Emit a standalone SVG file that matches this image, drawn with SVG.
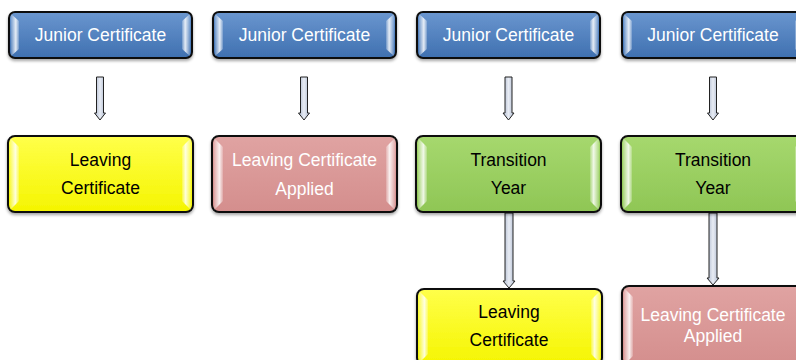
<svg xmlns="http://www.w3.org/2000/svg" width="796" height="360" viewBox="0 0 796 360">
<defs>
<linearGradient id="gBlue" x1="0" y1="0" x2="0" y2="1"><stop offset="0" stop-color="#6a96cf"/><stop offset="1" stop-color="#3f70b0"/></linearGradient>
<linearGradient id="gYellow" x1="0" y1="0" x2="0" y2="1"><stop offset="0" stop-color="#ffff4a"/><stop offset="1" stop-color="#f5f500"/></linearGradient>
<linearGradient id="gGreen" x1="0" y1="0" x2="0" y2="1"><stop offset="0" stop-color="#a6d86e"/><stop offset="1" stop-color="#8fc655"/></linearGradient>
<linearGradient id="gPink" x1="0" y1="0" x2="0" y2="1"><stop offset="0" stop-color="#e0a3a2"/><stop offset="1" stop-color="#d48e8d"/></linearGradient>
<linearGradient id="gSideL" x1="0" y1="0" x2="1" y2="0"><stop offset="0" stop-color="#ffffff" stop-opacity="0.15"/><stop offset="0.6" stop-color="#ffffff" stop-opacity="0.85"/><stop offset="1" stop-color="#ffffff" stop-opacity="0.2"/></linearGradient>
<linearGradient id="gSideR" x1="1" y1="0" x2="0" y2="0"><stop offset="0" stop-color="#ffffff" stop-opacity="0.15"/><stop offset="0.6" stop-color="#ffffff" stop-opacity="0.85"/><stop offset="1" stop-color="#ffffff" stop-opacity="0.2"/></linearGradient>
<linearGradient id="gArrow" x1="0" y1="0" x2="1" y2="0"><stop offset="0" stop-color="#aab6cc"/><stop offset="0.5" stop-color="#e8ecf4"/><stop offset="1" stop-color="#aab6cc"/></linearGradient>
<filter id="sh" x="-10%" y="-20%" width="120%" height="150%"><feDropShadow dx="0" dy="2" stdDeviation="1.5" flood-color="#000" flood-opacity="0.35"/></filter>
</defs>
<style>
.box{stroke:#111;stroke-width:2;filter:url(#sh)}
.blue{fill:url(#gBlue)}
.yellow{fill:url(#gYellow)}
.green{fill:url(#gGreen)}
.pink{fill:url(#gPink)}
.bl{fill:url(#gSideL)}
.br{fill:url(#gSideR)}
.arrow{fill:url(#gArrow);stroke:#222;stroke-width:1}
text{font-family:"Liberation Sans",Arial,sans-serif;font-size:17.5px;text-anchor:middle}
.w{fill:#ffffff}
.k{fill:#000000}
</style>

<g id="connectors">
<path class="arrow" d="M96.5,77 h7 v36 h2 l-5.5,7 l-5.5,-7 h2 z"/>
<path class="arrow" d="M300.5,77 h7 v36 h2 l-5.5,7 l-5.5,-7 h2 z"/>
<path class="arrow" d="M505,77 h7 v36 h2 l-5.5,7 l-5.5,-7 h2 z"/>
<path class="arrow" d="M709.5,77 h7 v36 h2 l-5.5,7 l-5.5,-7 h2 z"/>
<path class="arrow" d="M505,213 h8 v68 h2 l-6,7 l-6,-7 h2 z"/>
<path class="arrow" d="M709,213 h8 v65 h2 l-6,7 l-6,-7 h2 z"/>
</g>

<g id="jc1">
<rect class="box blue" x="9" y="12" width="183" height="46" rx="6"/>
<path class="bl" d="M11,14 L19,21 L19,49 L11,56 Z"/>
<path class="br" d="M190,14 L182,21 L182,49 L190,56 Z"/>
<text class="w" x="100.5" y="41">Junior Certificate</text>
</g>
<g id="jc2">
<rect class="box blue" x="213" y="12" width="183" height="46" rx="6"/>
<path class="bl" d="M215,14 L223,21 L223,49 L215,56 Z"/>
<path class="br" d="M394,14 L386,21 L386,49 L394,56 Z"/>
<text class="w" x="304.5" y="41">Junior Certificate</text>
</g>
<g id="jc3">
<rect class="box blue" x="417" y="12" width="183" height="46" rx="6"/>
<path class="bl" d="M419,14 L427,21 L427,49 L419,56 Z"/>
<path class="br" d="M598,14 L590,21 L590,49 L598,56 Z"/>
<text class="w" x="508.5" y="41">Junior Certificate</text>
</g>
<g id="jc4">
<rect class="box blue" x="622" y="12" width="183" height="46" rx="6"/>
<path class="bl" d="M624,14 L632,21 L632,49 L624,56 Z"/>
<path class="br" d="M803,14 L795,21 L795,49 L803,56 Z"/>
<text class="w" x="713" y="41">Junior Certificate</text>
</g>

<g id="lc1">
<rect class="box yellow" x="8" y="136" width="185" height="76" rx="7"/>
<path class="bl" d="M10,138 L19,147 L19,201 L10,210 Z"/>
<path class="br" d="M191,138 L182,147 L182,201 L191,210 Z"/>
<text class="k" x="100.5" y="166">Leaving</text>
<text class="k" x="100.5" y="194">Certificate</text>
</g>
<g id="lca2">
<rect class="box pink" x="212" y="136" width="185" height="76" rx="7"/>
<path class="bl" d="M214,138 L223,147 L223,201 L214,210 Z"/>
<path class="br" d="M395,138 L386,147 L386,201 L395,210 Z"/>
<text class="w" x="304.5" y="166">Leaving Certificate</text>
<text class="w" x="304.5" y="195">Applied</text>
</g>
<g id="ty3">
<rect class="box green" x="416" y="136" width="185" height="76" rx="7"/>
<path class="bl" d="M418,138 L427,147 L427,201 L418,210 Z"/>
<path class="br" d="M599,138 L590,147 L590,201 L599,210 Z"/>
<text class="k" x="508.5" y="166">Transition</text>
<text class="k" x="508.5" y="194">Year</text>
</g>
<g id="ty4">
<rect class="box green" x="621" y="136" width="185" height="76" rx="7"/>
<path class="bl" d="M623,138 L632,147 L632,201 L623,210 Z"/>
<path class="br" d="M804,138 L795,147 L795,201 L804,210 Z"/>
<text class="k" x="713" y="166">Transition</text>
<text class="k" x="713" y="194">Year</text>
</g>
<g id="lc3">
<rect class="box yellow" x="417" y="289" width="185" height="76" rx="7"/>
<path class="bl" d="M419,291 L428,300 L428,354 L419,363 Z"/>
<path class="br" d="M600,291 L591,300 L591,354 L600,363 Z"/>
<text class="k" x="509" y="318">Leaving</text>
<text class="k" x="509" y="346">Certificate</text>
</g>
<g id="lca4">
<rect class="box pink" x="622" y="286" width="185" height="80" rx="7"/>
<path class="bl" d="M624,288 L633,297 L633,356 L624,365 Z"/>
<path class="br" d="M805,288 L796,297 L796,356 L805,365 Z"/>
<text class="w" x="713" y="321">Leaving Certificate</text>
<text class="w" x="713" y="342">Applied</text>
</g>
</svg>
